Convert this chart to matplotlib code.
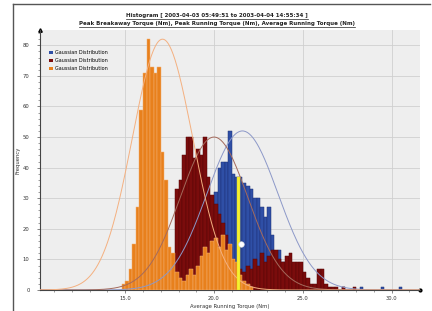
import numpy as np
import matplotlib
matplotlib.use("Agg")
import matplotlib.pyplot as plt
from matplotlib.patches import Patch
from matplotlib.lines import Line2D

# histogram bins (bin start, width 0.2)
bin_w = 0.2

orange_start = 14.8
orange_counts = [2, 3, 7, 15, 27, 59, 71, 82, 73, 71, 73, 45, 36, 14, 12, 6, 4, 3, 5, 7,
                 5, 8, 11, 14, 12, 16, 17, 14, 18, 13, 15, 10, 9, 5, 3, 2, 1]

maroon_start = 17.6
maroon_counts = [8, 33, 36, 44, 50, 50, 43, 46, 44, 50, 37, 31, 28, 25, 22, 18, 14, 10, 8, 7,
                 6, 8, 7, 10, 8, 12, 9, 11, 13, 13, 10, 9, 11, 12, 9, 9, 9, 6, 4, 2,
                 2, 7, 7, 2, 1, 1, 1, 0, 1, 0, 0, 1]

blue_start = 19.4
blue_counts = [5, 14, 24, 32, 40, 42, 42, 52, 38, 37, 37, 35, 34, 33, 30, 30, 27, 24, 27, 18,
               12, 13, 9, 6, 6, 4, 3, 4, 2, 2, 1, 1, 1, 1, 1, 0, 0, 0, 0, 1,
               0, 0, 0, 0, 1, 0, 0, 0, 0, 0, 1, 0, 0, 0, 0, 1]

# highlighted bin and marker
highlight_x = 21.4
highlight_count = 37
marker_x = 21.5
marker_y = 15

# fitted gaussians: mean, sd, peak
gauss_mean = {"blue": 21.6, "maroon": 20.0, "orange": 17.1}
gauss_sd = {"blue": 2.0, "maroon": 1.9, "orange": 1.7}
gauss_peak = {"blue": 52, "maroon": 50, "orange": 82}

bar_colors = {"blue": "#2F4FA6", "maroon": "#7A0C0C", "orange": "#E8801C"}
edge_colors = {"blue": "#1E3275", "maroon": "#560606", "orange": "#F4B070"}
line_colors = {"blue": "#8C98C8", "maroon": "#A46A5C", "orange": "#F4B080"}

title1 = "Histogram [ 2003-04-03 05:49:51 to 2003-04-04 14:55:34 ]"
title2 = "Peak Breakaway Torque (Nm), Peak Running Torque (Nm), Average Running Torque (Nm)"

fig = plt.figure(figsize=(4.32, 3.11), dpi=100)
ax = fig.add_axes([40 / 432, 21 / 311, 380 / 432, 260 / 311])
ax.set_facecolor("#EEEEEE")

series = [("blue", blue_start, blue_counts),
          ("maroon", maroon_start, maroon_counts),
          ("orange", orange_start, orange_counts)]
for z, (name, start, counts) in enumerate(series):
    x = start + bin_w * np.arange(len(counts))
    ax.bar(x, counts, width=bin_w, align="edge", color=bar_colors[name],
           edgecolor=edge_colors[name], linewidth=0.35, zorder=2 + z)

ax.bar([highlight_x], [highlight_count], width=0.17, align="center",
       color="#F6F030", edgecolor="#E0D020", linewidth=0.3, zorder=7)
ax.plot([marker_x], [marker_y], "o", ms=4, mfc="white", mec="#DDDDDD", mew=0.4, zorder=8)

xs = np.linspace(10.2, 31.6, 400)
for name in ["blue", "maroon", "orange"]:
    y = gauss_peak[name] * np.exp(-(xs - gauss_mean[name]) ** 2 / (2 * gauss_sd[name] ** 2))
    ax.plot(xs, y, color=line_colors[name], lw=0.7, zorder=6)

ax.set_xlim(10.2, 31.6)
ax.set_ylim(0, 85)
ax.set_xticks([15, 20, 25, 30])
ax.set_xticklabels(["15.0", "20.0", "25.0", "30.0"])
ax.set_xticks(np.arange(11, 32, 1), minor=True)
ax.set_yticks(np.arange(0, 81, 10))
ax.set_yticks(np.arange(0, 85, 2), minor=True)
ax.tick_params(which="major", labelsize=3.8, length=2.5, width=0.5, color="#555555",
               labelcolor="#333333")
ax.tick_params(axis="x", which="major", pad=2)
ax.tick_params(axis="y", which="major", pad=5)
ax.tick_params(which="minor", length=1.5, width=0.4, color="#555555")
ax.grid(True, which="major", color="#CFCFCF", lw=0.6, zorder=0)
ax.set_axisbelow(True)
for s in ["top", "right"]:
    ax.spines[s].set_visible(False)
for s in ["left", "bottom"]:
    ax.spines[s].set_color("#444444")
    ax.spines[s].set_linewidth(0.8)
ax.plot([0], [1], marker="^", ms=2.5, color="black", transform=ax.transAxes, clip_on=False)
ax.plot([1], [0], marker="o", ms=2, color="black", transform=ax.transAxes, clip_on=False)

ax.set_xlabel("Average Running Torque (Nm)", fontsize=3.8, color="#333333", labelpad=2)
ax.set_ylabel("Frequency", fontsize=3.8, color="#333333", labelpad=2)

handles = [Patch(facecolor=bar_colors[n], edgecolor="none") for n in ["blue", "maroon", "orange"]]
ax.legend(handles, ["Gaussian Distribution"] * 3, loc="upper left",
          bbox_to_anchor=(0.015, 0.935), frameon=False, fontsize=3.5,
          handlelength=0.8, handleheight=0.8, handletextpad=0.5, labelspacing=0.6,
          borderpad=0.2)

t1 = fig.text(217 / 432, 1 - 16 / 311, title1, ha="center", va="center",
              fontsize=4, fontweight="bold", color="#222222")
t2 = fig.text(217 / 432, 1 - 24 / 311, title2, ha="center", va="center",
              fontsize=4, fontweight="bold", color="#222222")

# underline titles
fig.canvas.draw()
r = fig.canvas.get_renderer()
for t in (t1, t2):
    bb = t.get_window_extent(r)
    yy = (bb.y0 - 0.3) / fig.bbox.height
    fig.add_artist(Line2D([bb.x0 / fig.bbox.width, bb.x1 / fig.bbox.width], [yy, yy],
                          color="#222222", lw=0.5))

# outer frame
fig.add_artist(Line2D([12.5 / 432, 430 / 432], [1 - 3.5 / 311, 1 - 3.5 / 311], color="#555555", lw=1))
fig.add_artist(Line2D([12.5 / 432, 12.5 / 432], [1 - 3.5 / 311, 0], color="#555555", lw=1))

fig.savefig("out.png", dpi=100)
